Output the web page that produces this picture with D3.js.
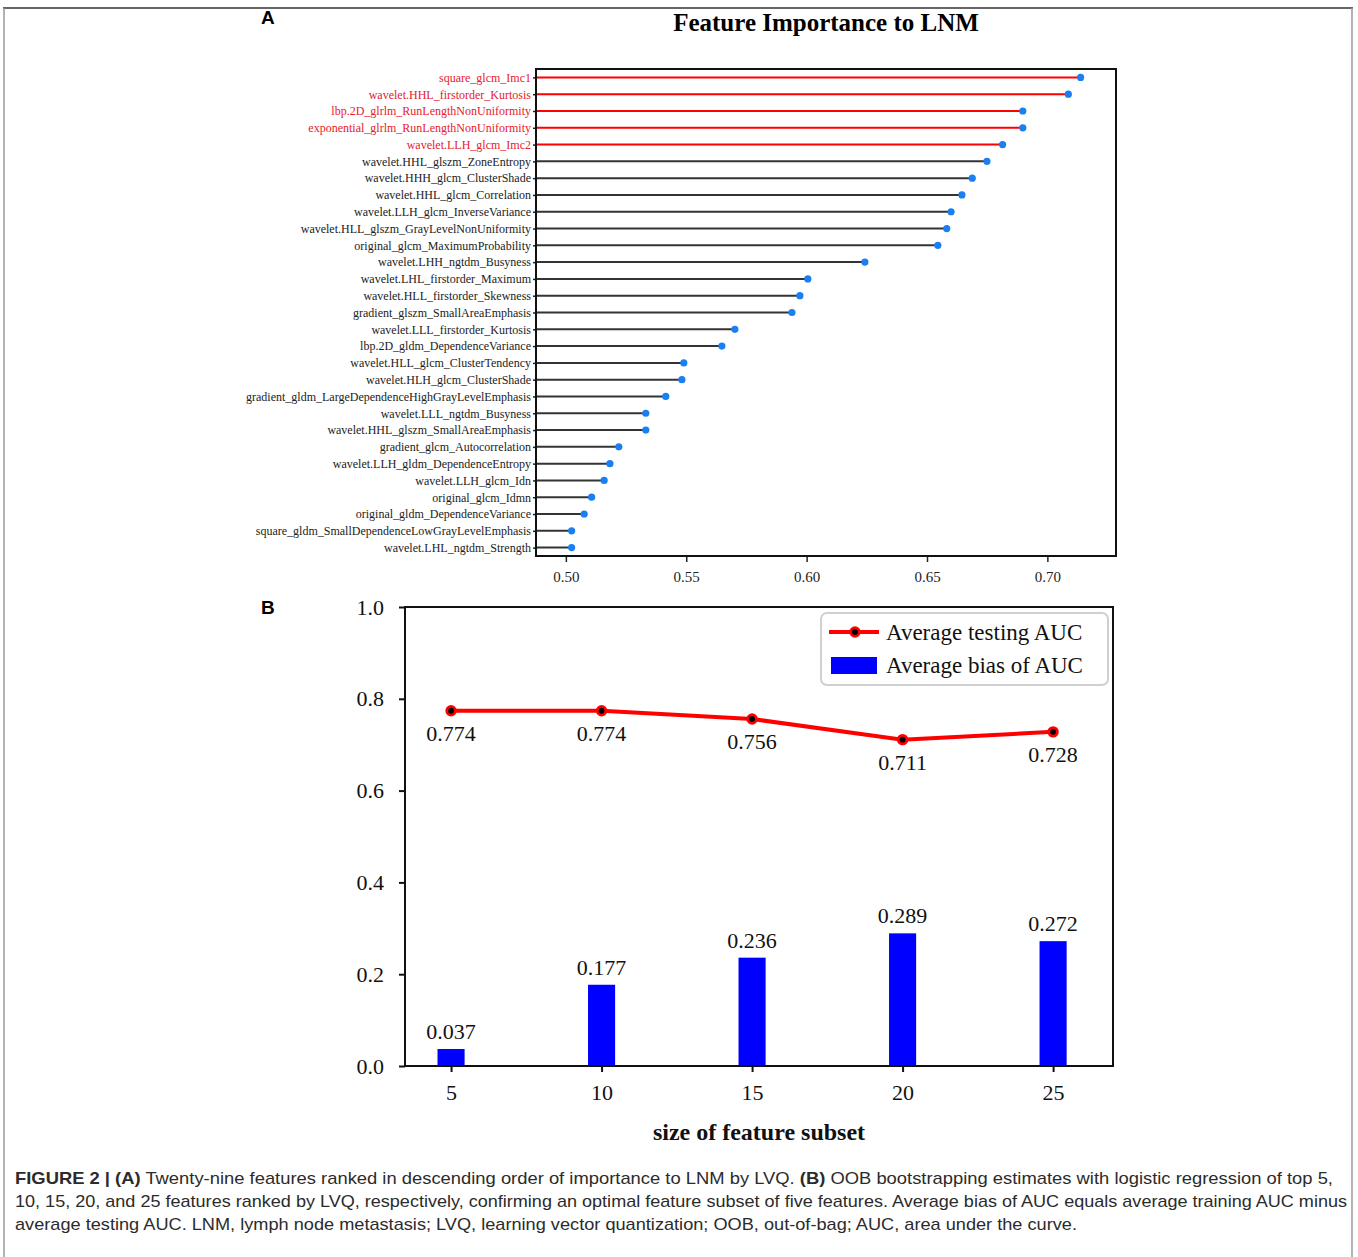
<!DOCTYPE html>
<html>
<head>
<meta charset="utf-8">
<script src="https://cdn.jsdelivr.net/npm/d3@7"></script>
<style>
  body { margin: 0; background: #fff; }
  svg { display: block; }
</style>
</head>
<body>
<svg id="fig" width="1358" height="1257"></svg>
<script>
// ---- panel A: feature importance (top to bottom) ----
const features = [
  "square_glcm_Imc1",
  "wavelet.HHL_firstorder_Kurtosis",
  "lbp.2D_glrlm_RunLengthNonUniformity",
  "exponential_glrlm_RunLengthNonUniformity",
  "wavelet.LLH_glcm_Imc2",
  "wavelet.HHL_glszm_ZoneEntropy",
  "wavelet.HHH_glcm_ClusterShade",
  "wavelet.HHL_glcm_Correlation",
  "wavelet.LLH_glcm_InverseVariance",
  "wavelet.HLL_glszm_GrayLevelNonUniformity",
  "original_glcm_MaximumProbability",
  "wavelet.LHH_ngtdm_Busyness",
  "wavelet.LHL_firstorder_Maximum",
  "wavelet.HLL_firstorder_Skewness",
  "gradient_glszm_SmallAreaEmphasis",
  "wavelet.LLL_firstorder_Kurtosis",
  "lbp.2D_gldm_DependenceVariance",
  "wavelet.HLL_glcm_ClusterTendency",
  "wavelet.HLH_glcm_ClusterShade",
  "gradient_gldm_LargeDependenceHighGrayLevelEmphasis",
  "wavelet.LLL_ngtdm_Busyness",
  "wavelet.HHL_glszm_SmallAreaEmphasis",
  "gradient_glcm_Autocorrelation",
  "wavelet.LLH_gldm_DependenceEntropy",
  "wavelet.LLH_glcm_Idn",
  "original_glcm_Idmn",
  "original_gldm_DependenceVariance",
  "square_gldm_SmallDependenceLowGrayLevelEmphasis",
  "wavelet.LHL_ngtdm_Strength"
];
const importance = [
  0.7138, 0.7087, 0.6898, 0.6898, 0.6814, 0.6749, 0.6688, 0.6645, 0.6600, 0.6582,
  0.6545, 0.6242, 0.6005, 0.5972, 0.5939, 0.5702, 0.5648, 0.5490, 0.5482, 0.5415,
  0.5332, 0.5332, 0.5220, 0.5183, 0.5159, 0.5107, 0.5076, 0.5024, 0.5024
];
const selectedCount = 5;   // top features drawn in red
const xTicksA = [0.50, 0.55, 0.60, 0.65, 0.70];

// ---- panel B: OOB bootstrapping ----
const subsetSizes = [5, 10, 15, 20, 25];
const testingAUC = [0.774, 0.774, 0.756, 0.711, 0.728];
const biasAUC = [0.037, 0.177, 0.236, 0.289, 0.272];
const yTicksB = [0.0, 0.2, 0.4, 0.6, 0.8, 1.0];

const serif = "'Liberation Serif', 'Times New Roman', serif";
const sans = "'Liberation Sans', Arial, sans-serif";

const svg = d3.select("#fig");

// figure frame (journal box)
svg.append("line").attr("x1", 3).attr("x2", 1353).attr("y1", 8).attr("y2", 8)
  .attr("stroke", "#666").attr("stroke-width", 2);
svg.append("line").attr("x1", 4).attr("x2", 4).attr("y1", 8).attr("y2", 1257)
  .attr("stroke", "#999").attr("stroke-width", 1.5);
svg.append("line").attr("x1", 1352).attr("x2", 1352).attr("y1", 8).attr("y2", 1257)
  .attr("stroke", "#999").attr("stroke-width", 1.5);

// ================= Panel A =================
const boxA = { left: 536, right: 1116, top: 69, bottom: 556 };

const xA = d3.scaleLinear()
  .domain([0.4876, 0.7285])
  .range([boxA.left, boxA.right]);
const yA = d3.scalePoint()
  .domain(features)
  .range([boxA.top, boxA.bottom])
  .padding(0.5);

svg.append("text")
  .attr("x", 261).attr("y", 24)
  .attr("font-family", sans).attr("font-weight", "bold").attr("font-size", 19)
  .text("A");

svg.append("text")
  .attr("x", (boxA.left + boxA.right) / 2).attr("y", 31)
  .attr("text-anchor", "middle")
  .attr("font-family", serif).attr("font-weight", "bold").attr("font-size", 25)
  .text("Feature Importance to LNM");

const gA = svg.append("g");

// stems
gA.selectAll(".stem")
  .data(features)
  .enter()
  .append("line")
  .attr("x1", boxA.left)
  .attr("x2", (d, i) => xA(importance[i]))
  .attr("y1", d => yA(d))
  .attr("y2", d => yA(d))
  .attr("stroke", (d, i) => i < selectedCount ? "#ff0000" : "#333")
  .attr("stroke-width", 2);

// dots
gA.selectAll(".dot")
  .data(features)
  .enter()
  .append("circle")
  .attr("cx", (d, i) => xA(importance[i]))
  .attr("cy", d => yA(d))
  .attr("r", 3.6)
  .attr("fill", "#1a7ff0");

// axes
const axA_x = gA.append("g")
  .attr("transform", "translate(0," + boxA.bottom + ")")
  .call(d3.axisBottom(xA).tickValues(xTicksA).tickFormat(d3.format(".2f")).tickSize(6).tickSizeOuter(0).tickPadding(9));
axA_x.select(".domain").remove();
axA_x.selectAll("line").attr("stroke", "#222").attr("stroke-width", 1.5);
axA_x.selectAll("text").attr("font-family", serif).attr("font-size", 15).attr("fill", "#222");

const axA_y = gA.append("g")
  .attr("transform", "translate(" + boxA.left + ",0)")
  .call(d3.axisLeft(yA).tickSize(3).tickPadding(2));
axA_y.select(".domain").remove();
axA_y.selectAll("line").attr("stroke", "#222").attr("stroke-width", 1.5);
axA_y.selectAll("text")
  .attr("font-family", serif).attr("font-size", 12)
  .attr("fill", (d, i) => i < selectedCount ? "#e8202a" : "#222");

gA.append("rect")
  .attr("x", boxA.left).attr("y", boxA.top)
  .attr("width", boxA.right - boxA.left).attr("height", boxA.bottom - boxA.top)
  .attr("fill", "none").attr("stroke", "#111").attr("stroke-width", 2);

// ================= Panel B =================
const boxB = { left: 405, right: 1113, top: 607, bottom: 1066 };

const xB = d3.scaleLinear().domain([3.47, 26.99]).range([boxB.left, boxB.right]);
const yB = d3.scaleLinear().domain([0, 1]).range([boxB.bottom, boxB.top]);
const barHalf = 0.45;

svg.append("text")
  .attr("x", 261).attr("y", 614)
  .attr("font-family", sans).attr("font-weight", "bold").attr("font-size", 19)
  .text("B");

const gB = svg.append("g");

// bias bars
gB.selectAll(".bar")
  .data(subsetSizes)
  .enter()
  .append("rect")
  .attr("x", d => xB(d - barHalf))
  .attr("width", d => xB(d + barHalf) - xB(d - barHalf))
  .attr("y", (d, i) => yB(biasAUC[i]))
  .attr("height", (d, i) => yB(0) - yB(biasAUC[i]))
  .attr("fill", "#0000ff");

gB.selectAll(".barLabel")
  .data(subsetSizes)
  .enter()
  .append("text")
  .attr("x", d => xB(d))
  .attr("y", (d, i) => yB(biasAUC[i]) - 10)
  .attr("text-anchor", "middle")
  .attr("font-family", serif).attr("font-size", 22).attr("fill", "#111")
  .text((d, i) => biasAUC[i].toFixed(3));

// testing AUC line
const line = d3.line()
  .x((d, i) => xB(subsetSizes[i]))
  .y(d => yB(d));

gB.append("path")
  .datum(testingAUC)
  .attr("d", line)
  .attr("fill", "none")
  .attr("stroke", "#ff0000")
  .attr("stroke-width", 4);

gB.selectAll(".marker")
  .data(testingAUC)
  .enter()
  .append("circle")
  .attr("cx", (d, i) => xB(subsetSizes[i]))
  .attr("cy", d => yB(d))
  .attr("r", 4.3)
  .attr("fill", "#000")
  .attr("stroke", "#ff0000")
  .attr("stroke-width", 2.8);

gB.selectAll(".aucLabel")
  .data(testingAUC)
  .enter()
  .append("text")
  .attr("x", (d, i) => xB(subsetSizes[i]))
  .attr("y", d => yB(d) + 30)
  .attr("text-anchor", "middle")
  .attr("font-family", serif).attr("font-size", 22).attr("fill", "#111")
  .text(d => d.toFixed(3));

// axes
const axB_x = gB.append("g")
  .attr("transform", "translate(0," + boxB.bottom + ")")
  .call(d3.axisBottom(xB).tickValues(subsetSizes).tickFormat(d3.format("d")).tickSize(6).tickSizeOuter(0).tickPadding(12));
axB_x.select(".domain").remove();
axB_x.selectAll("line").attr("stroke", "#111").attr("stroke-width", 2);
axB_x.selectAll("text").attr("font-family", serif).attr("font-size", 22).attr("fill", "#111");

const axB_y = gB.append("g")
  .attr("transform", "translate(" + boxB.left + ",0)")
  .call(d3.axisLeft(yB).tickValues(yTicksB).tickFormat(d3.format(".1f")).tickSize(6).tickSizeOuter(0).tickPadding(15));
axB_y.select(".domain").remove();
axB_y.selectAll("line").attr("stroke", "#111").attr("stroke-width", 2);
axB_y.selectAll("text").attr("font-family", serif).attr("font-size", 22).attr("fill", "#111");

gB.append("rect")
  .attr("x", boxB.left).attr("y", boxB.top)
  .attr("width", boxB.right - boxB.left).attr("height", boxB.bottom - boxB.top)
  .attr("fill", "none").attr("stroke", "#111").attr("stroke-width", 2);

svg.append("text")
  .attr("x", (boxB.left + boxB.right) / 2).attr("y", 1140)
  .attr("text-anchor", "middle")
  .attr("font-family", serif).attr("font-weight", "bold").attr("font-size", 24)
  .attr("fill", "#111")
  .text("size of feature subset");

// legend
const leg = gB.append("g").attr("transform", "translate(821,613)");
leg.append("rect")
  .attr("width", 287).attr("height", 72).attr("rx", 6)
  .attr("fill", "#fff").attr("stroke", "#d0d0d0").attr("stroke-width", 2);
leg.append("line").attr("x1", 8).attr("x2", 58).attr("y1", 19).attr("y2", 19)
  .attr("stroke", "#ff0000").attr("stroke-width", 4);
leg.append("circle").attr("cx", 34).attr("cy", 19).attr("r", 4.3)
  .attr("fill", "#000").attr("stroke", "#ff0000").attr("stroke-width", 2.8);
leg.append("rect").attr("x", 10).attr("y", 44).attr("width", 46).attr("height", 17)
  .attr("fill", "#0000ff");
leg.append("text").attr("x", 65).attr("y", 27)
  .attr("font-family", serif).attr("font-size", 23).attr("fill", "#111")
  .text("Average testing AUC");
leg.append("text").attr("x", 65).attr("y", 60)
  .attr("font-family", serif).attr("font-size", 23).attr("fill", "#111")
  .text("Average bias of AUC");

// ================= Caption =================
const captionLines = [
  [["FIGURE 2 | (A)", true], [" Twenty-nine features ranked in descending order of importance to LNM by LVQ. ", false], ["(B)", true], [" OOB bootstrapping estimates with logistic regression of top 5,", false]],
  [["10, 15, 20, and 25 features ranked by LVQ, respectively, confirming an optimal feature subset of five features. Average bias of AUC equals average training AUC minus", false]],
  [["average testing AUC. LNM, lymph node metastasis; LVQ, learning vector quantization; OOB, out-of-bag; AUC, area under the curve.", false]]
];
const captionWidths = [1318, 1332, 1062];
const captionY = [1184, 1207, 1230];

captionLines.forEach((parts, li) => {
  const t = svg.append("text")
    .attr("x", 15).attr("y", captionY[li])
    .attr("font-family", sans).attr("font-size", 17)
    .attr("fill", "#2b2b2b");
  parts.forEach(p => {
    t.append("tspan").attr("font-weight", p[1] ? "bold" : "normal").text(p[0]);
  });
  t.attr("textLength", captionWidths[li]).attr("lengthAdjust", "spacingAndGlyphs");
});
</script>
</body>
</html>
